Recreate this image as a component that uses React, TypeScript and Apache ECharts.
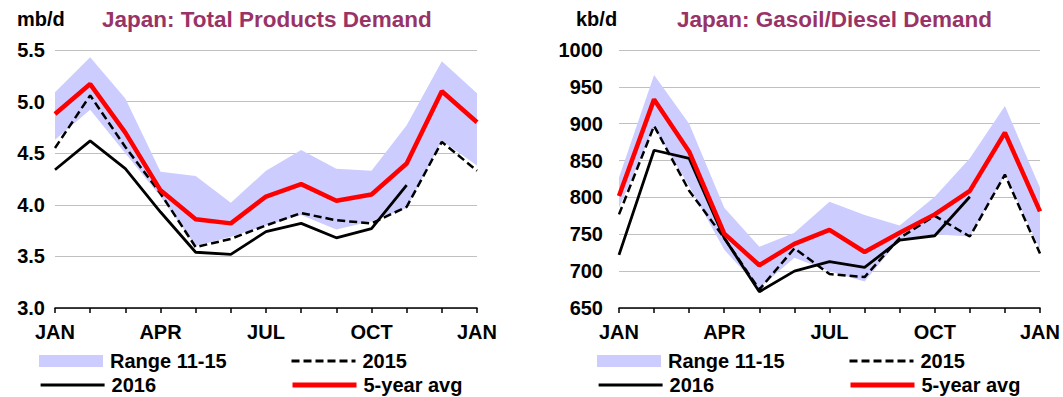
import React, { useEffect, useRef } from "react";
import * as echarts from "echarts";

const months = ["JAN", "FEB", "MAR", "APR", "MAY", "JUN", "JUL", "AUG", "SEP", "OCT", "NOV", "DEC", "JAN"];

// Left: Japan total products demand (mb/d)
const totRangeLow = [4.63, 4.92, 4.5, 4.08, 3.6, 3.69, 3.8, 3.9, 3.76, 3.84, 3.97, 4.62, 4.38];
const totRangeHigh = [5.09, 5.43, 5.03, 4.32, 4.28, 4.02, 4.33, 4.53, 4.35, 4.33, 4.77, 5.39, 5.08];
const tot2015 = [4.55, 5.06, 4.56, 4.11, 3.59, 3.67, 3.8, 3.92, 3.85, 3.82, 3.98, 4.61, 4.33];
const tot2016 = [4.34, 4.62, 4.35, 3.93, 3.54, 3.52, 3.74, 3.82, 3.68, 3.77, 4.19];
const totAvg = [4.88, 5.17, 4.7, 4.14, 3.86, 3.82, 4.08, 4.2, 4.04, 4.1, 4.4, 5.1, 4.8];

// Right: Japan gasoil/diesel demand (kb/d)
const gasRangeLow = [786, 895, 815, 729, 677, 718, 700, 686, 743, 750, 747, 831, 730];
const gasRangeHigh = [827, 966, 900, 786, 733, 752, 794, 776, 762, 801, 853, 924, 813];
const gas2015 = [777, 897, 809, 745, 675, 731, 696, 692, 745, 775, 747, 831, 724];
const gas2016 = [722, 864, 853, 745, 672, 700, 713, 705, 742, 748, 801];
const gasAvg = [802, 933, 862, 751, 708, 737, 756, 726, 752, 777, 809, 888, 781];

const FONT = "'Liberation Sans', Arial, sans-serif";
const BAND = "#CCCCFF";
const TITLE_COLOR = "#993366";

function seriesFor(idx: number, low: number[], high: number[], s15: number[], s16: number[], avg: number[]) {
  const stack = "band" + idx;
  return [
    {
      type: "line",
      name: "_low" + idx,
      xAxisIndex: idx,
      yAxisIndex: idx,
      stack,
      data: low,
      symbol: "none",
      lineStyle: { opacity: 0, width: 0 },
      silent: true,
    },
    {
      type: "line",
      name: "Range 11-15",
      xAxisIndex: idx,
      yAxisIndex: idx,
      stack,
      data: high.map((h, i) => +(h - low[i]).toFixed(3)),
      symbol: "none",
      lineStyle: { opacity: 0, width: 0 },
      itemStyle: { color: BAND },
      areaStyle: { color: BAND, opacity: 1 },
    },
    {
      type: "line",
      name: "2015",
      xAxisIndex: idx,
      yAxisIndex: idx,
      data: s15,
      symbol: "none",
      itemStyle: { color: "#000" },
      lineStyle: { color: "#000", width: 2.5, type: [8, 4] },
    },
    {
      type: "line",
      name: "2016",
      xAxisIndex: idx,
      yAxisIndex: idx,
      data: s16,
      symbol: "none",
      itemStyle: { color: "#000" },
      lineStyle: { color: "#000", width: 2.8 },
    },
    {
      type: "line",
      name: "5-year avg",
      xAxisIndex: idx,
      yAxisIndex: idx,
      data: avg,
      symbol: "none",
      itemStyle: { color: "#FF0000" },
      lineStyle: { color: "#FF0000", width: 4.5 },
    },
  ];
}

const textStyle = { fontFamily: FONT, fontWeight: "bold" as const, fontSize: 20, color: "#000" };

function legendAt(item: any, left: number, top: number) {
  return {
    data: [item],
    left,
    top,
    orient: "horizontal",
    itemWidth: 64,
    itemHeight: 12,
    itemGap: 0,
    padding: 0,
    selectedMode: false,
    itemStyle: { opacity: 0, borderWidth: 0 },
    textStyle: { ...textStyle, padding: [0, 0, 0, 2] },
  };
}

const bandItem = {
  name: "Range 11-15",
  icon: "rect",
  itemStyle: { color: BAND, opacity: 1, borderWidth: 0 },
};
const item2015 = { name: "2015", lineStyle: { width: 3, type: [8, 4], color: "#000" } };
const item2016 = { name: "2016", lineStyle: { width: 3.2, color: "#000" } };
const itemAvg = { name: "5-year avg", lineStyle: { width: 5, color: "#FF0000" } };

export default function App() {
  const ref = useRef<HTMLDivElement>(null);
  useEffect(() => {
    if (!ref.current) return;
    const chart = echarts.init(ref.current, undefined, { renderer: "svg" });
    const xAxisBase = {
      type: "category",
      data: months,
      boundaryGap: false,
      axisLine: { show: true, lineStyle: { color: "#000", width: 1.5 } },
      axisTick: { show: true, interval: 0, length: 5, lineStyle: { color: "#000", width: 1.5 } },
      axisLabel: { interval: 2, margin: 14, ...textStyle },
      splitLine: { show: false },
    };
    chart.setOption({
      animation: false,
      backgroundColor: "#fff",
      title: [
        { text: "mb/d", left: 17, top: 9, padding: 0, textStyle: { ...textStyle } },
        {
          text: "Japan: Total Products Demand",
          left: 102,
          top: 8,
          padding: 0,
          textStyle: { ...textStyle, fontSize: 22.5, color: TITLE_COLOR },
        },
        { text: "kb/d", left: 576, top: 9, padding: 0, textStyle: { ...textStyle } },
        {
          text: "Japan: Gasoil/Diesel Demand",
          left: 677,
          top: 8,
          padding: 0,
          textStyle: { ...textStyle, fontSize: 22.5, color: TITLE_COLOR },
        },
      ],
      grid: [
        { left: 55, top: 50, width: 422, height: 258, containLabel: false },
        { left: 619, top: 50, width: 422, height: 258, containLabel: false },
      ],
      xAxis: [
        { ...xAxisBase, gridIndex: 0 },
        { ...xAxisBase, gridIndex: 1 },
      ],
      yAxis: [
        {
          type: "value",
          gridIndex: 0,
          min: 3,
          max: 5.5,
          interval: 0.5,
          axisLine: { show: false },
          axisTick: { show: false },
          axisLabel: { ...textStyle, margin: 10, formatter: (v: number) => v.toFixed(1) },
          splitLine: { lineStyle: { color: "#C0C0C0", width: 1 } },
        },
        {
          type: "value",
          gridIndex: 1,
          min: 650,
          max: 1000,
          interval: 50,
          axisLine: { show: false },
          axisTick: { show: false },
          axisLabel: { ...textStyle, margin: 16, formatter: (v: number) => String(v) },
          splitLine: { lineStyle: { color: "#C0C0C0", width: 1 } },
        },
      ],
      legend: [
        legendAt(bandItem, 39, 351),
        legendAt(item2016, 39, 375),
        legendAt(item2015, 290, 351),
        legendAt(itemAvg, 290, 375),
        legendAt(bandItem, 597, 351),
        legendAt(item2016, 597, 375),
        legendAt(item2015, 848, 351),
        legendAt(itemAvg, 848, 375),
      ],
      series: [
        ...seriesFor(0, totRangeLow, totRangeHigh, tot2015, tot2016, totAvg),
        ...seriesFor(1, gasRangeLow, gasRangeHigh, gas2015, gas2016, gasAvg),
      ],
    });
    return () => chart.dispose();
  }, []);
  return (
    <div
      ref={ref}
      style={{ position: "fixed", left: 0, top: 0, width: 1063, height: 397, background: "#fff" }}
    />
  );
}
